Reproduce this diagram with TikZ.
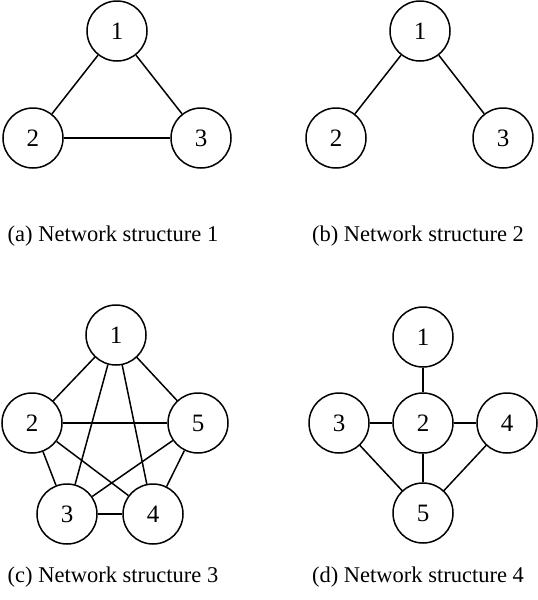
\documentclass[tikz,border=0pt]{standalone}
\usepackage{fontspec}
\setmainfont{Liberation Serif}
\usetikzlibrary{positioning}
\tikzset{
  vtx/.style={draw=black,circle,line width=1.5pt,minimum size=60pt,inner sep=0pt,fill=white,font=\fontsize{25}{30}\selectfont},
  edg/.style={draw=black,line width=1.5pt},
  captxt/.style={font=\fontsize{22.5}{27}\selectfont,anchor=center},
}
\begin{document}
\begin{tikzpicture}[x=1pt,y=-1pt]
\useasboundingbox (0,0) rectangle (538,600);
% (a)
\node[vtx] (a1) at (117,31) {1};
\node[vtx] (a2) at (33,138) {2};
\node[vtx] (a3) at (201,138) {3};
\draw[edg] (a1) -- (a2);
\draw[edg] (a1) -- (a3);
\draw[edg] (a2) -- (a3);
\node[captxt] (capa) at (113,236) {(a) Network structure 1};
% (b)
\node[vtx] (b1) at (420,31) {1};
\node[vtx] (b2) at (336,138) {2};
\node[vtx] (b3) at (503,138) {3};
\draw[edg] (b1) -- (b2);
\draw[edg] (b1) -- (b3);
\node[captxt] (capb) at (418,236) {(b) Network structure 2};
% (c)
\node[vtx] (c1) at (116,335) {1};
\node[vtx] (c2) at (32,423) {2};
\node[vtx] (c5) at (198,423) {5};
\node[vtx] (c3) at (67,514) {3};
\node[vtx] (c4) at (153,514) {4};
\foreach \i/\j in {1/2,1/3,1/4,1/5,2/3,2/4,2/5,3/4,3/5,4/5}
  \draw[edg] (c\i) -- (c\j);
\node[captxt] (capc) at (113,577) {(c) Network structure 3};
% (d)
\node[vtx] (d1) at (423,337) {1};
\node[vtx] (d2) at (423,423) {2};
\node[vtx] (d3) at (339,423) {3};
\node[vtx] (d4) at (507,423) {4};
\node[vtx] (d5) at (423,513) {5};
\foreach \i/\j in {1/2,3/2,2/4,2/5,3/5,4/5}
  \draw[edg] (d\i) -- (d\j);
\node[captxt] (capd) at (418,577) {(d) Network structure 4};
\end{tikzpicture}
\end{document}
